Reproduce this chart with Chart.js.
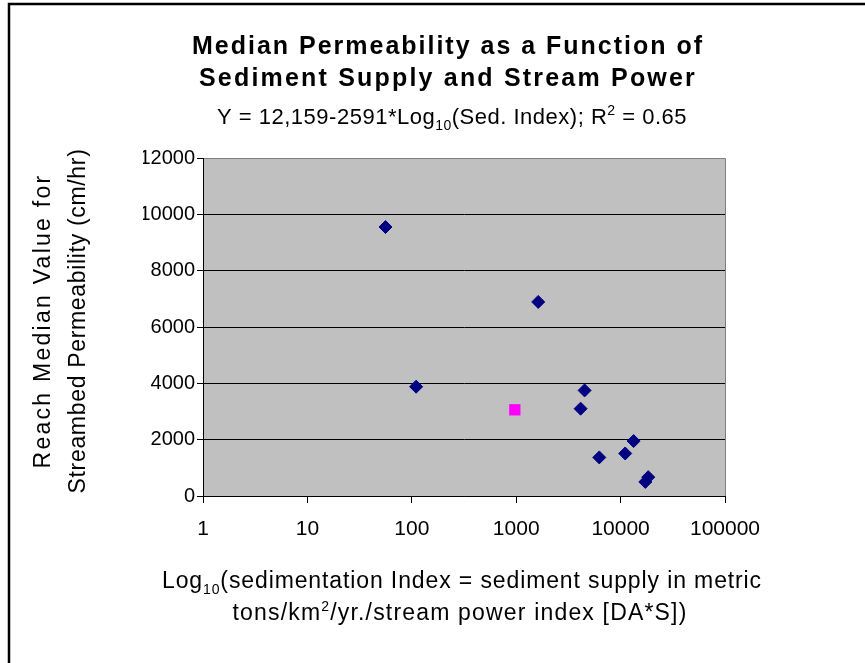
<!DOCTYPE html>
<html>
<head>
<meta charset="utf-8">
<script src="https://cdn.jsdelivr.net/npm/chart.js@4.4.0/dist/chart.umd.min.js"></script>
<style>
html, body { margin: 0; padding: 0; background: #fff; }
#wrap { width: 865px; height: 663px; position: relative; }
</style>
</head>
<body>
<div id="wrap"><canvas id="permChart" width="865" height="663"></canvas></div>
<script>
// sediment index (x, log scale) and reach median permeability (y, cm/hr)
const sedIndex = [56, 110, 1625, 4520, 4140, 6250, 11070, 13330, 18400, 17250];
const permeability = [9550, 3880, 6890, 3750, 3100, 1370, 1510, 1950, 670, 500];
// the single pink point
const pinkSedIndex = [970];
const pinkPermeability = [3060];

const xTicks = [1, 10, 100, 1000, 10000, 100000];
const yTicks = [0, 2000, 4000, 6000, 8000, 10000, 12000];

const FONT = '"Liberation Sans", Arial, sans-serif';

// draws a line of text (with sub/superscript pieces) centred on x,
// spread out with letter spacing so it fills roughly `target` pixels
function drawRich(ctx, parts, x, y, size, weight, target) {
    const small = Math.round(size * 0.62);
    let natural = 0;
    let chars = 0;
    ctx.letterSpacing = '0px';
    const widths = parts.map(([t, m]) => {
        ctx.font = `${weight} ${m ? small : size}px ${FONT}`;
        const w = ctx.measureText(t).width;
        natural += w;
        chars += t.length;
        return w;
    });
    const spacing = target ? Math.max(0, (target - natural) / chars) : 0;
    const total = natural + spacing * chars;
    let cx = x - total / 2;
    ctx.letterSpacing = spacing + 'px';
    parts.forEach(([t, m], i) => {
        ctx.font = `${weight} ${m ? small : size}px ${FONT}`;
        const dy = m === 'sub' ? size * 0.25 : m === 'sup' ? -size * 0.4 : 0;
        ctx.fillText(t, cx, y + dy);
        cx += widths[i] + spacing * t.length;
    });
    ctx.letterSpacing = '0px';
}

const decorPlugin = {
    id: 'decor',
    beforeDraw(chart) {
        const ctx = chart.ctx;
        const a = chart.chartArea;
        ctx.save();
        ctx.fillStyle = '#fff';
        ctx.fillRect(0, 0, chart.width, chart.height);
        // outer frame (runs off the right / bottom edge)
        ctx.strokeStyle = '#000';
        ctx.lineWidth = 2.5;
        ctx.beginPath();
        ctx.moveTo(9, 700);
        ctx.lineTo(9, 4);
        ctx.lineTo(900, 4);
        ctx.stroke();
        // plot area
        ctx.fillStyle = '#c0c0c0';
        ctx.fillRect(a.left, a.top, a.right - a.left, a.bottom - a.top);
        ctx.strokeStyle = '#808080';
        ctx.lineWidth = 1;
        ctx.beginPath();
        ctx.moveTo(a.left, a.top + 0.5);
        ctx.lineTo(a.right + 0.5, a.top + 0.5);
        ctx.lineTo(a.right + 0.5, a.bottom);
        ctx.stroke();
        ctx.restore();
    },
    afterDraw(chart) {
        const ctx = chart.ctx;
        ctx.save();
        ctx.fillStyle = '#000';
        ctx.textAlign = 'left';
        ctx.textBaseline = 'alphabetic';

        drawRich(ctx, [['Median Permeability as a Function of', '']], 448, 54, 25, 'bold', 512);
        drawRich(ctx, [['Sediment Supply and Stream Power', '']], 448, 86, 25, 'bold', 498);
        drawRich(ctx, [['Y = 12,159-2591*Log', ''], ['10', 'sub'], ['(Sed. Index); R', ''], ['2', 'sup'], [' = 0.65', '']], 452, 124, 22, 'normal', 470);

        drawRich(ctx, [['Log', ''], ['10', 'sub'], ['(sedimentation Index = sediment supply in metric', '']], 462, 588, 23, 'normal', 600);
        drawRich(ctx, [['tons/km', ''], ['2', 'sup'], ['/yr./stream power index [DA*S])', '']], 460, 620, 23, 'normal', 455);

        ctx.rotate(-Math.PI / 2);
        drawRich(ctx, [['Reach Median Value for', '']], -321, 50, 23, 'normal', 295);
        drawRich(ctx, [['Streambed Permeability (cm/hr)', '']], -321, 85, 23, 'normal', 345);
        ctx.restore();
    }
};

const ctx = document.getElementById('permChart');

new Chart(ctx, {
    type: 'scatter',
    data: {
        datasets: [{
            label: 'Reaches',
            data: sedIndex.map((x, i) => ({ x: x, y: permeability[i] })),
            pointStyle: 'rectRot',
            pointRadius: 6.5,
            pointHoverRadius: 6.5,
            backgroundColor: '#000080',
            borderColor: '#000080',
            borderWidth: 1
        }, {
            label: 'Pink',
            data: pinkSedIndex.map((x, i) => ({ x: x, y: pinkPermeability[i] })),
            pointStyle: 'rect',
            pointRadius: 8,
            pointHoverRadius: 8,
            backgroundColor: '#ff00ff',
            borderColor: '#ff00ff',
            borderWidth: 0
        }]
    },
    options: {
        responsive: false,
        animation: false,
        devicePixelRatio: 1,
        layout: {
            padding: { left: 143, top: 158, right: 140, bottom: 117 }
        },
        plugins: {
            legend: { display: false },
            title: { display: false },
            tooltip: { enabled: false }
        },
        scales: {
            x: {
                type: 'logarithmic',
                min: 1,
                max: 100000,
                afterBuildTicks: function(scale) {
                    scale.ticks = xTicks.map(v => ({ value: v, major: true }));
                },
                afterFit: function(scale) {
                    scale.height = 50;
                    scale.paddingLeft = 0;
                    scale.paddingRight = 0;
                },
                border: { color: '#000', width: 1 },
                grid: {
                    drawOnChartArea: false,
                    color: '#000',
                    tickLength: 7
                },
                ticks: {
                    autoSkip: false,
                    maxRotation: 0,
                    color: '#000',
                    padding: 14,
                    font: { family: FONT, size: 21 },
                    callback: function(value) { return String(value); }
                }
            },
            y: {
                min: 0,
                max: 12000,
                afterBuildTicks: function(scale) {
                    scale.ticks = yTicks.map(v => ({ value: v }));
                },
                afterFit: function(scale) {
                    scale.width = 60;
                    scale.paddingTop = 0;
                    scale.paddingBottom = 0;
                },
                border: { color: '#000', width: 1 },
                grid: {
                    color: function(c) { return c.tick && c.tick.value === 12000 ? '#808080' : '#000'; },
                    tickColor: '#000',
                    tickLength: 6
                },
                ticks: {
                    color: '#000',
                    padding: 2,
                    font: { family: FONT, size: 20 },
                    callback: function(value) { return String(value); }
                }
            }
        }
    },
    plugins: [decorPlugin]
});
</script>
</body>
</html>
